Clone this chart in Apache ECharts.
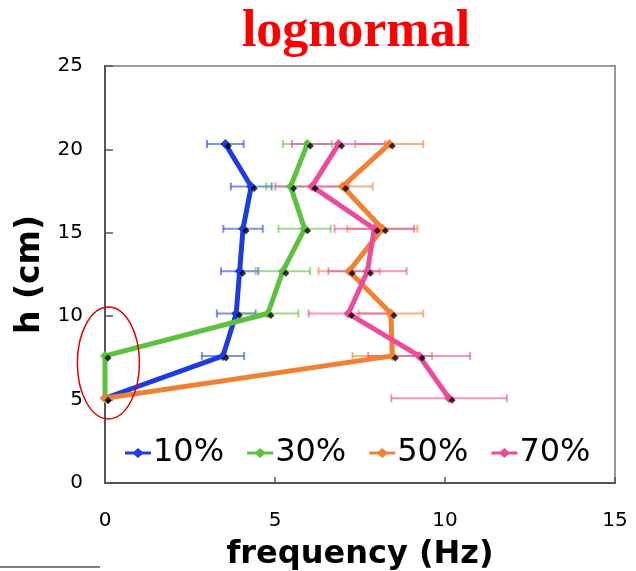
<!DOCTYPE html>
<html>
<head>
<meta charset="utf-8">
<script src="https://cdn.jsdelivr.net/npm/echarts@6/dist/echarts.min.js"></script>
<style>html,body{margin:0;padding:0;background:#fff}#c{width:636px;height:571px}</style>
</head>
<body>
<div id="c"></div>
<script>
// heights (cm)
var heights = [20.32, 17.78, 15.24, 12.7, 10.16, 7.62, 5.08];
var seriesNames = ['10%', '30%', '50%', '70%'];
// frequencies (Hz)
var f10 = [3.54, 4.30, 4.06, 3.96, 3.86, 3.47, 0];
var f30 = [5.95, 5.46, 5.87, 5.23, 4.79, 0, 0];
var f50 = [8.36, 6.99, 8.16, 7.18, 8.41, 8.45, 0];
var f70 = [6.87, 6.09, 7.92, 7.72, 7.16, 9.24, 10.12];
// error (± Hz)
var e10 = [0.54, 0.60, 0.58, 0.55, 0.57, 0.62, 0];
var e30 = [0.72, 0.72, 0.77, 0.80, 0.90, 0, 0];
var e50 = [1.00, 0.88, 1.03, 0.90, 0.95, 1.17, 0];
var e70 = [1.37, 1.08, 1.17, 1.15, 1.17, 1.50, 1.70];
var xTicks = [0, 5, 10, 15];
var yTicks = [0, 5, 10, 15, 20, 25];

var freqs = [f10, f30, f50, f70];
var errs = [e10, e30, e50, e70];
var colors = ['#1c3be2', '#5cc13c', '#f28033', '#ec4a9b'];
var errColors = ['rgba(40,70,230,0.6)', 'rgba(92,193,60,0.6)', 'rgba(242,128,51,0.6)', 'rgba(236,74,155,0.6)'];

var chart = echarts.init(document.getElementById('c'), null, {renderer: 'canvas'});
var series = [];
freqs.forEach(function (f, i) {
  var ebData = [];
  heights.forEach(function (h, j) {
    if (errs[i][j] > 0) ebData.push([f[j] - errs[i][j], f[j] + errs[i][j], h]);
  });
  series.push({
    type: 'custom',
    name: 'eb' + i,
    silent: true,
    z: 1,
    data: ebData,
    renderItem: function (params, api) {
      var a = api.coord([api.value(0), api.value(2)]);
      var b = api.coord([api.value(1), api.value(2)]);
      var cap = 4;
      var st = {stroke: errColors[i], lineWidth: 2};
      return {type: 'group', children: [
        {type: 'line', shape: {x1: a[0], y1: a[1], x2: b[0], y2: b[1]}, style: st},
        {type: 'line', shape: {x1: a[0], y1: a[1] - cap, x2: a[0], y2: a[1] + cap}, style: st},
        {type: 'line', shape: {x1: b[0], y1: b[1] - cap, x2: b[0], y2: b[1] + cap}, style: st}
      ]};
    }
  });
});
freqs.forEach(function (f, i) {
  series.push({
    type: 'line',
    name: seriesNames[i],
    z: 3 + i,
    data: heights.map(function (h, j) { return [f[j], h]; }),
    symbol: 'diamond',
    symbolSize: 10,
    showSymbol: true,
    lineStyle: {color: colors[i], width: 5},
    itemStyle: {color: colors[i]},
    emphasis: {disabled: true},
    animation: false
  });
  series.push({
    type: 'scatter',
    name: 'shadow' + i,
    z: 3 + i,
    data: heights.map(function (h, j) { return [f[j], h]; }),
    symbol: 'diamond',
    symbolSize: [7, 7],
    symbolOffset: [3, 2],
    itemStyle: {color: '#000'},
    silent: true,
    animation: false
  });
});

var titleG = {type: 'text', x: 356, y: 33,
  style: {text: 'lognormal', fill: '#ff0000', font: 'bold 52px "Liberation Serif"', textAlign: 'center', textVerticalAlign: 'middle'}};
var lineG = {type: 'line', shape: {x1: 0, y1: 567, x2: 100, y2: 567}, style: {stroke: '#000', lineWidth: 1}};

chart.setOption({
  animation: false,
  grid: {left: 105, right: 21, top: 66, bottom: 88, show: true, borderColor: '#999', borderWidth: 2,
    containLabel: false, outerBoundsMode: 'none'},
  xAxis: {
    type: 'value', min: 0, max: 15, interval: 5,
    name: 'frequency (Hz)', nameLocation: 'middle', nameGap: 56,
    nameTextStyle: {fontFamily: 'DejaVu Sans', fontWeight: 'bold', fontSize: 32, color: '#000'},
    axisLine: {show: true, lineStyle: {color: '#555', width: 2}},
    axisTick: {show: true, inside: true, length: 6, lineStyle: {color: '#555', width: 1.5}},
    axisLabel: {fontFamily: 'DejaVu Sans', fontSize: 20, color: '#000', margin: 28,
      formatter: function (v) { return xTicks.indexOf(v) >= 0 ? String(v) : ''; }},
    splitLine: {show: false}
  },
  yAxis: {
    type: 'value', min: 0, max: 25, interval: 5,
    name: 'h (cm)', nameLocation: 'middle', nameGap: 39, nameRotate: 90,
    nameTextStyle: {fontFamily: 'DejaVu Sans', fontWeight: 'bold', fontSize: 33, color: '#000'},
    axisLine: {show: true, lineStyle: {color: '#555', width: 2}},
    axisTick: {show: true, inside: true, length: 8, lineStyle: {color: '#555', width: 1.5}},
    axisLabel: {fontFamily: 'DejaVu Sans', fontSize: 20, color: '#000', margin: 22,
      formatter: function (v) { return yTicks.indexOf(v) >= 0 ? String(v) : ''; }},
    splitLine: {show: false}
  },
  legend: {
    data: seriesNames,
    left: 120, top: 432,
    itemWidth: 26, itemHeight: 10, itemGap: 23,
    textStyle: {fontFamily: 'DejaVu Sans', fontSize: 32, color: '#000', padding: [0, 0, 0, -3]},
    icon: 'path://M0,3.6 L9,3.6 L13,0 L17,3.6 L26,3.6 L26,6.4 L17,6.4 L13,10 L9,6.4 L0,6.4 Z'
  },
  series: series,
  graphic: [titleG, lineG]
});

// annotation ellipse around the zero points
var c = chart.convertToPixel({gridIndex: 0}, [0.1, 7.2]);
chart.setOption({graphic: [
  titleG, lineG,
  {type: 'ellipse', shape: {cx: c[0], cy: c[1], rx: 31, ry: 56}, style: {fill: 'none', stroke: '#e00000', lineWidth: 1.5}, z: 100}
]}, {replaceMerge: ['graphic']});
</script>
</body>
</html>
